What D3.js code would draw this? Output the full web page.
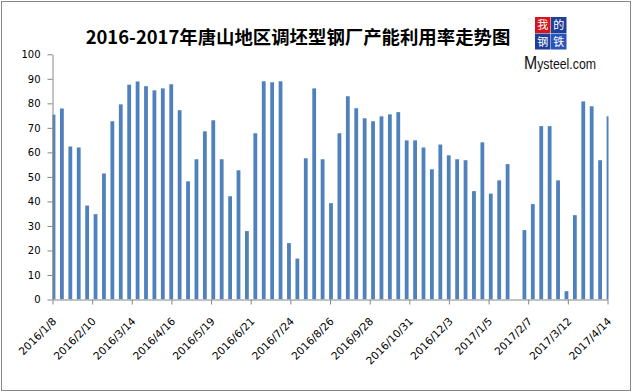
<!DOCTYPE html>
<html>
<head>
<meta charset="utf-8">
<script src="https://cdn.jsdelivr.net/npm/d3@7/dist/d3.min.js"></script>
<style>
  body { margin: 0; background: #fff; }
  svg { display: block; }
  .axis text { font-family: "DejaVu Sans", Verdana, sans-serif; font-size: 10px; fill: #000; }
  .axis path, .axis line { stroke: #868686; }
</style>
</head>
<body>
<script>
const title = "2016-2017年唐山地区调坯型钢厂产能利用率走势图";

// weekly dates (2017/1/27 has no reading)
const dates = [
  "2016/1/8","2016/1/15","2016/1/22","2016/1/29","2016/2/5","2016/2/12","2016/2/19","2016/2/26",
  "2016/3/4","2016/3/11","2016/3/18","2016/3/25","2016/4/1","2016/4/8","2016/4/15","2016/4/22",
  "2016/4/29","2016/5/6","2016/5/13","2016/5/20","2016/5/27","2016/6/3","2016/6/10","2016/6/17",
  "2016/6/24","2016/7/1","2016/7/8","2016/7/15","2016/7/22","2016/7/29","2016/8/5","2016/8/12",
  "2016/8/19","2016/8/26","2016/9/2","2016/9/9","2016/9/16","2016/9/23","2016/9/30","2016/10/7",
  "2016/10/14","2016/10/21","2016/10/28","2016/11/4","2016/11/11","2016/11/18","2016/11/25","2016/12/2",
  "2016/12/9","2016/12/16","2016/12/23","2016/12/30","2017/1/6","2017/1/13","2017/1/20",
  "2017/2/3","2017/2/10","2017/2/17","2017/2/24","2017/3/3","2017/3/10","2017/3/17","2017/3/24",
  "2017/3/31","2017/4/7","2017/4/14"
];
const rates = [
  75.4, 77.9, 62.4, 62.0, 38.3, 34.8, 51.4, 72.7,
  79.6, 87.6, 88.9, 87.0, 85.3, 86.1, 87.8, 77.2,
  48.2, 57.2, 68.6, 73.1, 57.2, 42.1, 52.7, 27.9,
  67.8, 89.0, 88.6, 89.0, 23.0, 16.7, 57.6, 86.1,
  57.2, 39.3, 67.8, 82.9, 78.0, 73.9, 72.7, 74.7,
  75.5, 76.4, 64.9, 64.9, 62.0, 53.1, 63.2, 58.8,
  57.2, 56.8, 44.2, 64.1, 43.2, 48.6, 55.2,
  28.3, 38.9, 70.7, 70.7, 48.6, 3.4, 34.4, 80.8,
  78.8, 56.8, 74.7
];
const tickLabels = [
  "2016/1/8","2016/2/10","2016/3/14","2016/4/16","2016/5/19","2016/6/21","2016/7/24","2016/8/26",
  "2016/9/28","2016/10/31","2016/12/3","2017/1/5","2017/2/7","2017/3/12","2017/4/14"
];
const yTicks = [0,10,20,30,40,50,60,70,80,90,100];

const W = 632, H = 392;
const plotL = 52.5, plotR = 607.5, plotT = 54.3, plotB = 299.5;
const parse = d3.timeParse("%Y/%m/%d");

const svg = d3.select("body").append("svg")
    .attr("width", W).attr("height", H);

// outer frame
svg.append("rect")
    .attr("x", 1.5).attr("y", 1.5)
    .attr("width", 629).attr("height", 389)
    .attr("fill", "#fff").attr("stroke", "#878787");

const x = d3.scaleTime()
    .domain([parse(tickLabels[0]), parse(tickLabels[tickLabels.length-1])])
    .range([plotL, plotR]);
const y = d3.scaleLinear().domain([0, 100]).range([plotB, plotT]);

svg.append("clipPath").attr("id", "plot")
    .append("rect").attr("x", plotL).attr("y", 0)
    .attr("width", plotR - plotL + 1).attr("height", plotB);

const barW = 3.8, barShift = 1.0;
svg.append("g").attr("clip-path", "url(#plot)")
  .selectAll("rect")
  .data(dates.map((d,i) => ({date: parse(d), value: rates[i]})))
  .enter().append("rect")
    .attr("x", d => x(d.date) + barShift - barW/2)
    .attr("y", d => y(d.value))
    .attr("width", barW)
    .attr("height", d => y(0) - y(d.value))
    .attr("fill", "#4F81BD");

svg.append("g")
    .attr("class", "axis")
    .attr("transform", `translate(${plotL},0)`)
    .call(d3.axisLeft(y).tickValues(yTicks).tickSize(5).tickSizeOuter(0).tickPadding(7));

const xAxis = svg.append("g")
    .attr("class", "axis")
    .attr("transform", `translate(0,${plotB})`)
    .call(d3.axisBottom(x)
        .tickValues(tickLabels.map(parse))
        .tickSize(5).tickSizeOuter(0)
        .tickFormat((d,i) => tickLabels[i]));
xAxis.selectAll("text")
    .attr("x", 0).attr("y", 0).attr("dy", 0)
    .attr("text-anchor", "end")
    .style("font-size", "10.6px")
    .attr("transform", "translate(4,22.5) rotate(-45)");

// title
svg.append("text")
    .attr("x", 298).attr("y", 43.5)
    .attr("text-anchor", "middle")
    .style("font-family", "'Noto Sans CJK SC', sans-serif")
    .style("font-weight", "bold")
    .style("font-size", "18.4px")
    .attr("fill", "#000")
    .text(title);

// logo
const logo = svg.append("g").attr("transform", "translate(535,17)");
const cells = [
  {t: "我", c: "#D7161C", gx: 0, gy: 0},
  {t: "的", c: "#1F3F99", gx: 1, gy: 0},
  {t: "钢", c: "#1F3F99", gx: 0, gy: 1},
  {t: "铁", c: "#2A55B8", gx: 1, gy: 1}
];
logo.selectAll("rect").data(cells).enter().append("rect")
    .attr("x", d => d.gx * 16).attr("y", d => d.gy * 16.5)
    .attr("width", 15.5).attr("height", 16)
    .attr("fill", d => d.c);
logo.selectAll("text").data(cells).enter().append("text")
    .attr("x", d => d.gx * 16 + 7.75).attr("y", d => d.gy * 16.5 + 12.3)
    .attr("text-anchor", "middle")
    .style("font-family", "'Noto Sans CJK SC', sans-serif")
    .style("font-size", "11px")
    .attr("fill", "#fff")
    .text(d => d.t);

const brand = svg.append("text")
    .attr("x", 524).attr("y", 69)
    .attr("textLength", 72).attr("lengthAdjust", "spacingAndGlyphs")
    .style("font-family", "'Liberation Sans', Arial, sans-serif")
    .style("font-size", "14px")
    .attr("fill", "#111");
brand.append("tspan").style("font-size", "18px").text("M");
brand.append("tspan").text("ysteel.com");
</script>
</body>
</html>
